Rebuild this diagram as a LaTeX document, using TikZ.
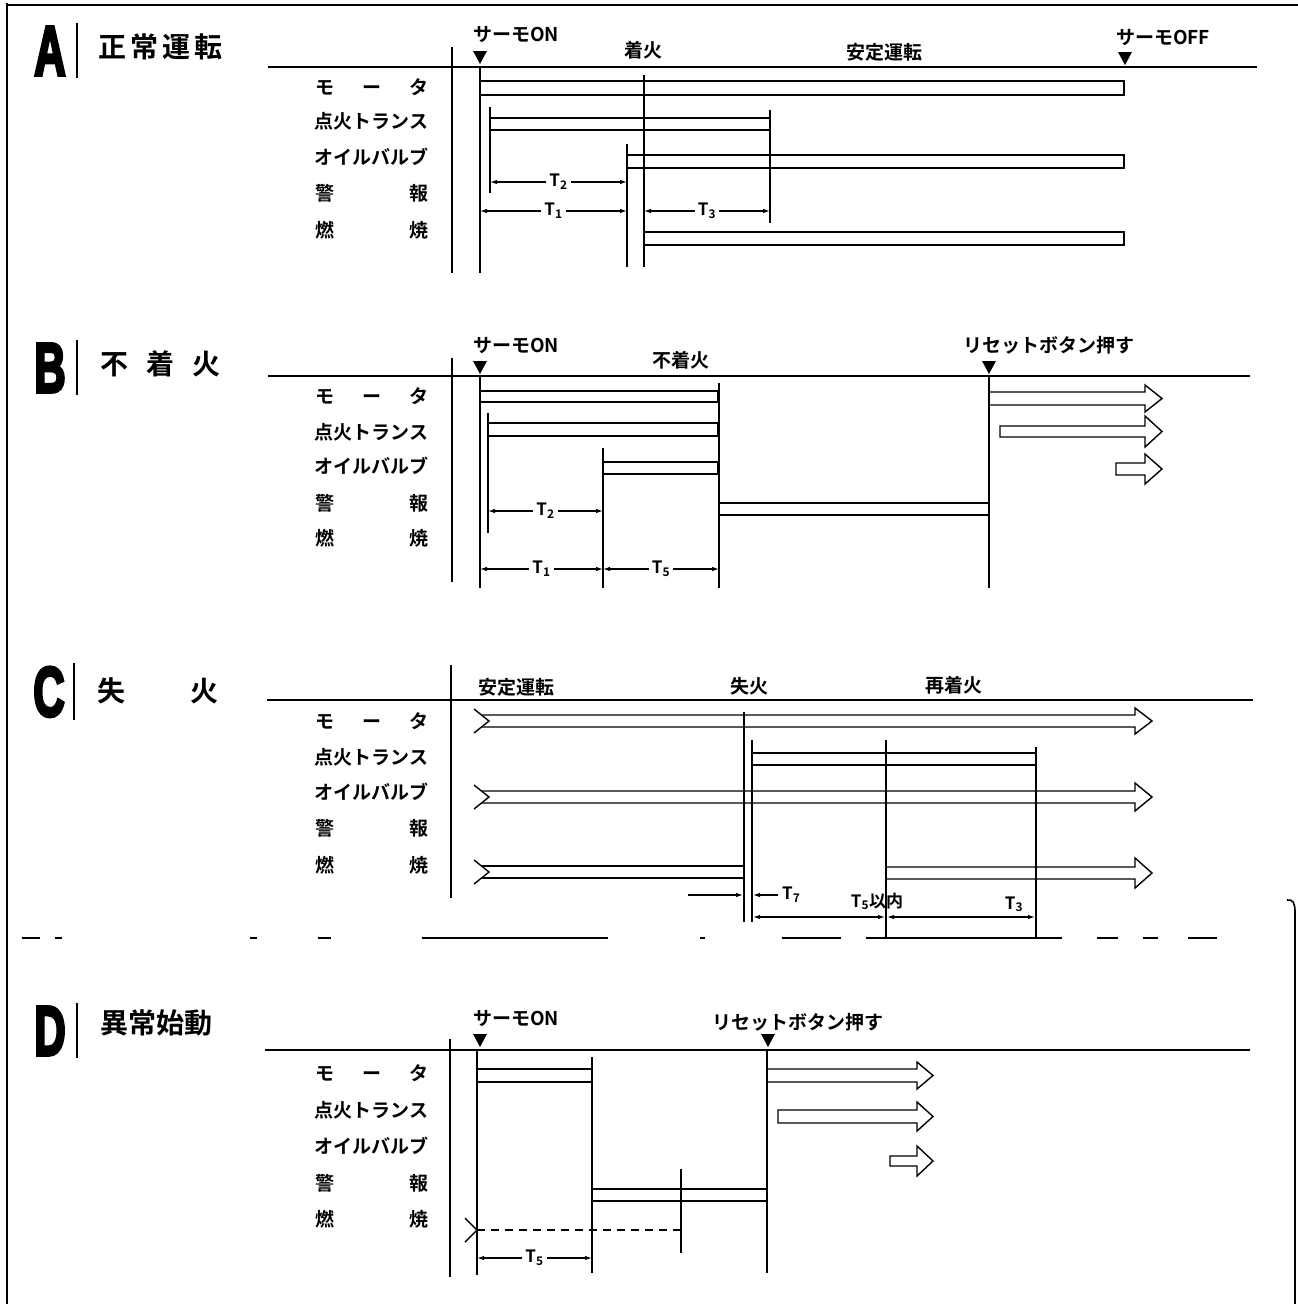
\documentclass[tikz,border=0pt]{standalone}
\usepackage{fontspec}
\usetikzlibrary{arrows.meta}
\IfFontExistsTF{Noto Sans CJK JP Bold}{\newfontfamily\jpf{Noto Sans CJK JP Bold}}{\newfontfamily\jpf{Noto Sans CJK JP}[FakeBold=2]}
\newfontfamily\letf{Liberation Sans Bold}[FakeBold=5]
\newcommand\dntri[2]{\fill (#1-7,#2) -- (#1+7,#2) -- (#1,#2+13) -- cycle;}
\newcommand\harrO[6]{\draw[bar] (#1,#2) -- (#4,#2) -- (#4,#2-#6) -- (#5,{(#2+#3)/2}) -- (#4,#3+#6) -- (#4,#3) -- (#1,#3);}
\newcommand\harrC[6]{\draw[bar] (#1,#2) -- (#4,#2) -- (#4,#2-#6) -- (#5,{(#2+#3)/2}) -- (#4,#3+#6) -- (#4,#3) -- (#1,#3) -- cycle;}
\newcommand\brkmark[3]{\draw[bar] (#1-15,{#2-(#3-#2)/2}) -- (#1,{(#2+#3)/2}) -- (#1-15,{#3+(#3-#2)/2});}
\newcommand\sigrows[6]{%
  \node[lbl] (#1m) at (315,#2+7) {\makebox[113pt]{モ\hfill ー\hfill タ}};
  \node[lbl] (#1i) at (315,#3+7) {\makebox[113pt]{点火トランス}};
  \node[lbl] (#1o) at (315,#4+7) {\makebox[113pt]{オイルバルブ}};
  \node[lbl] (#1a) at (315,#5+7) {\makebox[113pt]{警\hfill 報}};
  \node[lbl] (#1b) at (315,#6+7) {\makebox[113pt]{燃\hfill 焼}};}
\tikzset{
  every node/.style={inner sep=0pt},
  lbl/.style={anchor=base west, font=\jpf\fontsize{19}{19}\selectfont},
  hd/.style={anchor=base west, font=\jpf\fontsize{19}{19}\selectfont},
  hdc/.style={anchor=base, font=\jpf\fontsize{19}{19}\selectfont},
  ttl/.style={anchor=base west, font=\jpf\fontsize{28}{28}\selectfont},
  bigletter/.style={anchor=base, font=\letf\fontsize{70}{70}\selectfont},
  tlab/.style={fill=white, inner xsep=3pt, inner ysep=1pt, font=\jpf\fontsize{17}{17}\selectfont},
  tlabp/.style={anchor=base, font=\jpf\fontsize{17}{17}\selectfont},
  ln/.style={line width=1.8pt},
  bar/.style={line width=1.4pt},
  axis/.style={line width=2.8pt},
  tl/.style={line width=2pt},
  frame/.style={line width=1.6pt},
  dim/.style={line width=1.2pt, {Latex[length=7pt,width=4.5pt]}-{Latex[length=7pt,width=4.5pt]}},
  dimr/.style={line width=1.2pt, -{Latex[length=7pt,width=4.5pt]}},
}
\begin{document}
\begin{tikzpicture}[x=1pt,y=-1pt]
\fill[white] (0,0) rectangle (1298,1304);
\useasboundingbox (0,0) rectangle (1298,1304);
% frame
\draw[frame] (7,3) -- (7,1304);
\draw[frame] (7,5) -- (1298,5);
\draw[frame] (1287,900) .. controls (1293,899) and (1295,903) .. (1295,912) -- (1295,1304);
\foreach \a/\b in {22/40,55/62,250/257,318/331,422/608,700/705,782/841,866/1062,1097/1118,1143/1158,1188/1217}
  \draw[bar] (\a,938) -- (\b,938);

% ================= A
\node[bigletter] (Alet) at (50,75) {\scalebox{0.62}[1]{A}};
\draw[bar] (77,23) -- (77,78);
\node[ttl] (Atitle) at (98,57) {\makebox[124pt]{正\hfill 常\hfill 運\hfill 転}};
\draw[tl] (268,67) -- (1257,67);
\draw[axis] (452,47) -- (452,273);
\node[hd] (Aon) at (473,41) {サーモON};
\dntri{480}{51}
\node[hdc] (Afire) at (643,57) {着火};
\node[hdc] (Astab) at (884,59) {安定運転};
\node[hd] (Aoff) at (1116,44) {サーモOFF};
\dntri{1125}{52}
\draw[ln] (480,67) -- (480,273);
\draw[bar] (480,81) -- (1124,81) -- (1124,95) -- (480,95);
\draw[ln] (490,107) -- (490,193);
\draw[bar] (490,118) -- (770,118) (490,130) -- (770,130);
\draw[ln] (770,110) -- (770,223);
\draw[ln] (627,144) -- (627,267);
\draw[bar] (627,155) -- (1124,155) -- (1124,168) -- (627,168);
\draw[ln] (644,75) -- (644,267);
\draw[bar] (644,232) -- (1124,232) -- (1124,245) -- (644,245);
\draw[dim] (490,182) -- node[tlab]{T\textsubscript{2}} (627,182);
\draw[dim] (480,211) -- node[tlab]{T\textsubscript{1}} (627,211);
\draw[dim] (644,211) -- node[tlab]{T\textsubscript{3}} (770,211);
\sigrows{A}{87}{121}{157}{193}{230}

% ================= B
\node[bigletter] (Blet) at (50,392) {\scalebox{0.62}[1]{B}};
\draw[bar] (77,340) -- (77,395);
\node[ttl] (Btitle) at (100,374) {\makebox[120pt]{不\hfill 着\hfill 火}};
\draw[tl] (268,376) -- (1250,376);
\draw[axis] (452,358) -- (452,582);
\node[hd] (Bon) at (473,352) {サーモON};
\dntri{480}{361}
\node[hdc] (Bnf) at (681,367) {不着火};
\node[hd] (Brs) at (963,352) {リセットボタン押す};
\dntri{989}{361}
\draw[ln] (480,376) -- (480,588);
\draw[bar] (480,391) -- (718,391) -- (718,402) -- (480,402);
\draw[ln] (488,413) -- (488,533);
\draw[bar] (488,423) -- (718,423) -- (718,436) -- (488,436);
\draw[ln] (603,448) -- (603,588);
\draw[bar] (603,462) -- (718,462) -- (718,474) -- (603,474);
\draw[ln] (719,383) -- (719,588);
\draw[bar] (719,503) -- (989,503) (719,515) -- (989,515);
\draw[ln] (989,376) -- (989,588);
\harrO{989}{392}{405}{1145}{1162}{7}
\harrC{1000}{426}{437}{1145}{1162}{10}
\harrC{1116}{463}{475}{1145}{1162}{9}
\draw[dim] (488,511) -- node[tlab]{T\textsubscript{2}} (603,511);
\draw[dim] (480,569) -- node[tlab]{T\textsubscript{1}} (603,569);
\draw[dim] (603,569) -- node[tlab]{T\textsubscript{5}} (719,569);
\sigrows{B}{396}{432}{466}{503}{538}

% ================= C
\node[bigletter] (Clet) at (49,716) {\scalebox{0.62}[1]{C}};
\draw[bar] (74,663) -- (74,720);
\node[ttl] (Ct1) at (97,701) {失};
\node[ttl] (Ct2) at (190,701) {火};
\draw[tl] (267,700) -- (1253,700);
\draw[axis] (451,665) -- (451,898);
\node[hd] (Cst) at (478,694) {安定運転};
\node[hdc] (Cmf) at (749,693) {失火};
\node[hdc] (Crf) at (954,692) {再着火};
\brkmark{489}{715}{727}
\harrO{481.5}{715}{727}{1135}{1152}{7}
\draw[ln] (744,712) -- (744,922);
\draw[ln] (752,740) -- (752,922);
\draw[bar] (752,753) -- (1036,753) -- (1036,765) -- (752,765);
\draw[ln] (1036,747) -- (1036,937);
\draw[ln] (886,740) -- (886,937);
\brkmark{489}{791}{803}
\harrO{481.5}{791}{803}{1135}{1152}{8}
\brkmark{489}{866}{878}
\draw[bar] (481.5,866) -- (744,866) (481.5,878) -- (744,878);
\harrO{886}{867}{879}{1135}{1152}{9}
\draw[dimr] (688,895) -- (743,895);
\draw[dimr] (778,895) -- (753,895);
\node[anchor=west, font=\jpf\fontsize{17}{17}\selectfont] (CT7) at (782,895) {T\textsubscript{7}};
\draw[dim] (753,917) -- (885,917);
\draw[dim] (887,917) -- (1035,917);
\node[tlabp] (CT5) at (877,907) {T\textsubscript{5}以内};
\node[tlabp] (CT3) at (1014,909) {T\textsubscript{3}};
\sigrows{C}{721}{757}{792}{828}{865}

% ================= D
\node[bigletter] (Dlet) at (50,1055) {\scalebox{0.62}[1]{D}};
\draw[bar] (77,1003) -- (77,1058);
\node[ttl] (Dtitle) at (100,1033) {異常始動};
\draw[tl] (265,1050) -- (1250,1050);
\draw[axis] (450,1039) -- (450,1277);
\node[hd] (Don) at (473,1025) {サーモON};
\dntri{480}{1034}
\node[hd] (Drs) at (712,1029) {リセットボタン押す};
\dntri{768}{1034}
\draw[ln] (477,1050) -- (477,1275);
\draw[bar] (477,1069) -- (592,1069) -- (592,1082) -- (477,1082);
\draw[ln] (592,1057) -- (592,1273);
\draw[bar] (592,1189) -- (767,1189) (592,1201) -- (767,1201);
\draw[ln] (681,1169) -- (681,1253);
\draw[bar, dash pattern=on 8pt off 6pt] (477,1230) -- (681,1230);
\draw[bar] (465,1218) -- (477,1230) -- (465,1242);
\draw[dim] (477,1258) -- node[tlab]{T\textsubscript{5}} (592,1258);
\draw[ln] (767,1050) -- (767,1273);
\harrO{767}{1069}{1082}{917}{933}{7}
\harrC{778}{1110}{1123}{917}{933}{8}
\harrC{890}{1156}{1166}{917}{933}{10}
\sigrows{D}{1073}{1110}{1146}{1183}{1219}
\end{tikzpicture}
\end{document}
